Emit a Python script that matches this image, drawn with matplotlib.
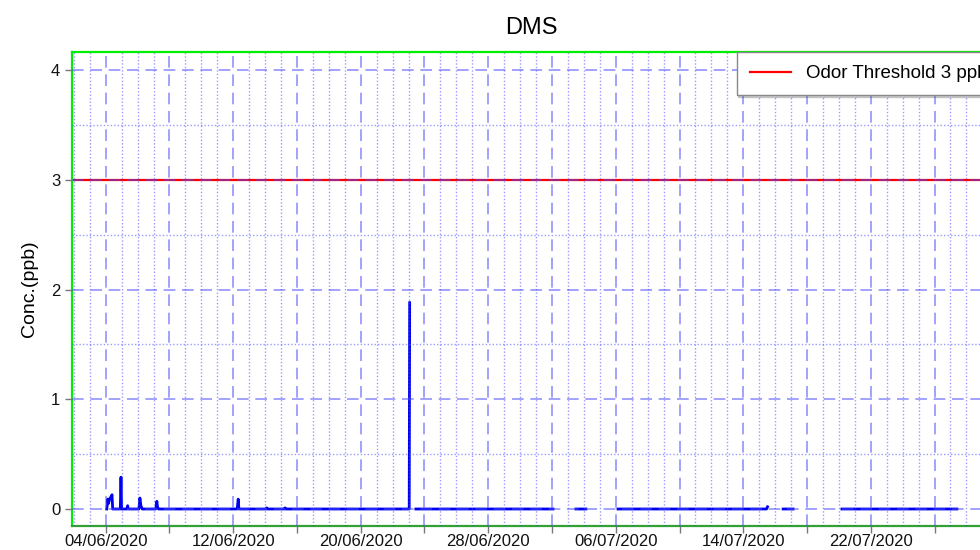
import numpy as np
import pandas as pd
import matplotlib
matplotlib.use("Agg")
import matplotlib.pyplot as plt
import matplotlib.dates as mdates
from matplotlib.ticker import FixedLocator, MultipleLocator, FuncFormatter

plt.rcParams['font.family'] = ['Liberation Sans', 'DejaVu Sans']

# ---- data ----
dms_time = [
    "2020-06-04 01:30", "2020-06-04 02:30", "2020-06-04 03:00", "2020-06-04 04:00",
    "2020-06-04 05:00", "2020-06-04 06:30", "2020-06-04 08:00", "2020-06-04 09:30",
    "2020-06-04 10:30", "2020-06-04 22:00", "2020-06-04 23:00", "2020-06-05 00:00",
    "2020-06-05 08:00", "2020-06-05 09:00", "2020-06-05 10:00", "2020-06-06 02:00",
    "2020-06-06 03:30", "2020-06-06 05:00", "2020-06-06 07:00", "2020-06-07 03:30",
    "2020-06-07 05:00", "2020-06-07 06:00", "2020-06-07 07:30", "2020-06-12 06:00",
    "2020-06-12 07:30", "2020-06-12 08:30", "2020-06-14 01:30", "2020-06-14 02:30",
    "2020-06-14 03:30", "2020-06-15 05:00", "2020-06-15 06:00", "2020-06-15 07:00",
    "2020-06-23 01:00", "2020-06-23 01:40", "2020-06-23 06:00", "2020-06-23 11:00",
    "2020-07-02 01:30", "2020-07-02 18:00", "2020-07-03 12:00", "2020-07-04 03:00",
    "2020-07-05 03:00", "2020-07-06 03:20", "2020-07-15 11:00", "2020-07-15 12:30",
    "2020-07-16 00:00", "2020-07-16 12:00", "2020-07-17 03:00", "2020-07-18 12:00",
    "2020-07-20 04:30", "2020-07-27 09:40",
]
dms_ppb = [
    0.0, 0.04, 0.09, 0.05,
    0.07, 0.10, 0.11, 0.13,
    0.0, 0.0, 0.29, 0.0,
    0.0, 0.03, 0.0, 0.0,
    0.10, 0.03, 0.0, 0.0,
    0.07, 0.02, 0.0, 0.0,
    0.09, 0.0, 0.0, 0.01,
    0.0, 0.0, 0.01, 0.0,
    0.0, 1.88, np.nan, 0.0,
    0.0, np.nan, 0.0, 0.0,
    np.nan, 0.0, 0.0, 0.02,
    np.nan, 0.0, 0.0, np.nan,
    0.0, 0.0,
]
threshold_ppb = 3
threshold_label = "Odor Threshold 3 ppb"
major_tick_dates = ["2020-06-04", "2020-06-08", "2020-06-12", "2020-06-16", "2020-06-20",
                    "2020-06-24", "2020-06-28", "2020-07-02", "2020-07-06", "2020-07-10",
                    "2020-07-14", "2020-07-18", "2020-07-22", "2020-07-26"]
labelled_tick_dates = ["2020-06-04", "2020-06-12", "2020-06-20", "2020-06-28",
                       "2020-07-06", "2020-07-14", "2020-07-22"]
x_start, x_end = "2020-06-01 21:15", "2020-07-29 11:30"

# ---- figure ----
fig = plt.figure(figsize=(9.8, 5.5), dpi=100)
ax = fig.add_axes([72/980, 24/550, (990-72)/980, (526-52)/550])

t = pd.to_datetime(dms_time)
ax.plot(t, dms_ppb, color='#0000ee', lw=2.0, zorder=2)
ax.axhline(threshold_ppb, color='#ff0000', lw=1.6, zorder=1.5, label=threshold_label)

ax.set_xlim(pd.Timestamp(x_start), pd.Timestamp(x_end))
ax.set_ylim(-0.155, 4.165)

major_nums = mdates.date2num(pd.to_datetime(major_tick_dates))
labelled = set(np.round(mdates.date2num(pd.to_datetime(labelled_tick_dates)), 3))
ax.xaxis.set_major_locator(FixedLocator(major_nums))
ax.xaxis.set_minor_locator(mdates.DayLocator())
ax.xaxis.set_major_formatter(FuncFormatter(
    lambda v, p: mdates.num2date(v).strftime('%d/%m/%Y') if round(v, 3) in labelled else ''))
ax.yaxis.set_major_locator(MultipleLocator(1))
ax.yaxis.set_minor_locator(MultipleLocator(0.5))

ax.set_axisbelow(False)
ax.grid(which='major', color='#4a4aff', alpha=0.6, lw=1.2, linestyle=(0, (7, 4)), zorder=3)
ax.grid(which='minor', color='#4a4aff', alpha=0.55, lw=1.0, linestyle=(0, (1, 1.5)), zorder=3)

ax.tick_params(axis='both', which='major', length=5, width=1, color='#777777',
               labelsize=12, labelcolor='#111111')
ax.tick_params(axis='both', which='minor', length=0)
ax.tick_params(axis='x', pad=1)

for side in ['left', 'top']:
    ax.spines[side].set_color('#00ee00')
    ax.spines[side].set_linewidth(1.6)
ax.spines['bottom'].set_color('#33a033')
ax.spines['bottom'].set_linewidth(1.6)
ax.spines['right'].set_visible(False)

ax.set_title("DMS", fontsize=17, pad=13)
ax.set_ylabel("Conc.(ppb)", fontsize=14, labelpad=9)

leg = ax.legend(loc='upper right', bbox_to_anchor=(1.012, 1.0), borderaxespad=0,
                fontsize=13.5, fancybox=False, shadow={'alpha': 0.25, 'ox': 1, 'oy': -1},
                framealpha=1, edgecolor='#888888', handlelength=2.2, borderpad=0.7)
leg.get_frame().set_linewidth(1.0)
leg.set_zorder(5)

fig.savefig("out.png", dpi=100)
